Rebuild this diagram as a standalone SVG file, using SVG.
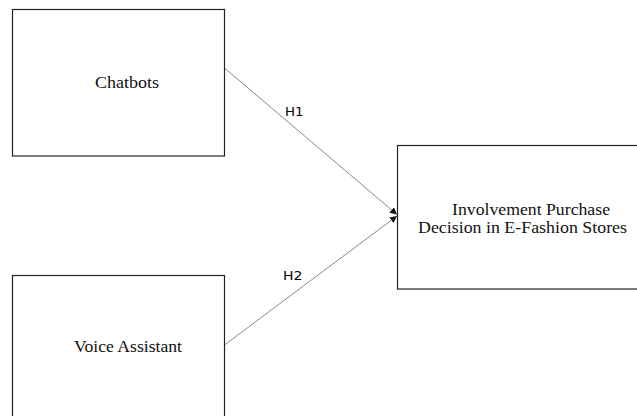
<svg xmlns="http://www.w3.org/2000/svg" width="637" height="416" viewBox="0 0 637 416">
<style>
.box{fill:#fff;stroke:#222;stroke-width:1.2}
.lbl{font-family:"Liberation Serif","Times New Roman",serif;font-size:16px;fill:#111}
.hyp{font-family:"DejaVu Sans","Open Sans",sans-serif;font-size:12px;fill:#000}
.conn{stroke:#555;stroke-width:0.7;fill:none}
</style>
<defs>
<marker id="arr" viewBox="0 0 10 10" refX="10" refY="5" markerWidth="7" markerHeight="7" orient="auto" markerUnits="userSpaceOnUse">
<path d="M0,0 L10,5 L0,10 z" fill="#111"/>
</marker>
</defs>
<rect width="637" height="416" fill="#fff"/>
<g id="connectors">
<line class="conn" x1="224.5" y1="68" x2="397" y2="214.5" marker-end="url(#arr)"/>
<line class="conn" x1="224.5" y1="345" x2="397" y2="216" marker-end="url(#arr)"/>
<text class="hyp" x="285" y="115.5" textLength="18.5" lengthAdjust="spacingAndGlyphs">H1</text>
<text class="hyp" x="283" y="279.5" textLength="19.5" lengthAdjust="spacingAndGlyphs">H2</text>
</g>
<g id="chatbots">
<rect class="box" x="12.5" y="9.5" width="212" height="146.5"/>
<text class="lbl" x="95" y="88" textLength="64" lengthAdjust="spacingAndGlyphs">Chatbots</text>
</g>
<g id="voice-assistant">
<rect class="box" x="12.5" y="275.5" width="212" height="150"/>
<text class="lbl" x="74" y="351.5" textLength="108" lengthAdjust="spacingAndGlyphs">Voice Assistant</text>
</g>
<g id="purchase-decision">
<rect class="box" x="397.5" y="145.5" width="250" height="143.5"/>
<text class="lbl" x="452" y="214.5" textLength="158" lengthAdjust="spacingAndGlyphs">Involvement Purchase</text>
<text class="lbl" x="418" y="232.5" textLength="209" lengthAdjust="spacingAndGlyphs">Decision in E-Fashion Stores</text>
</g>
</svg>
